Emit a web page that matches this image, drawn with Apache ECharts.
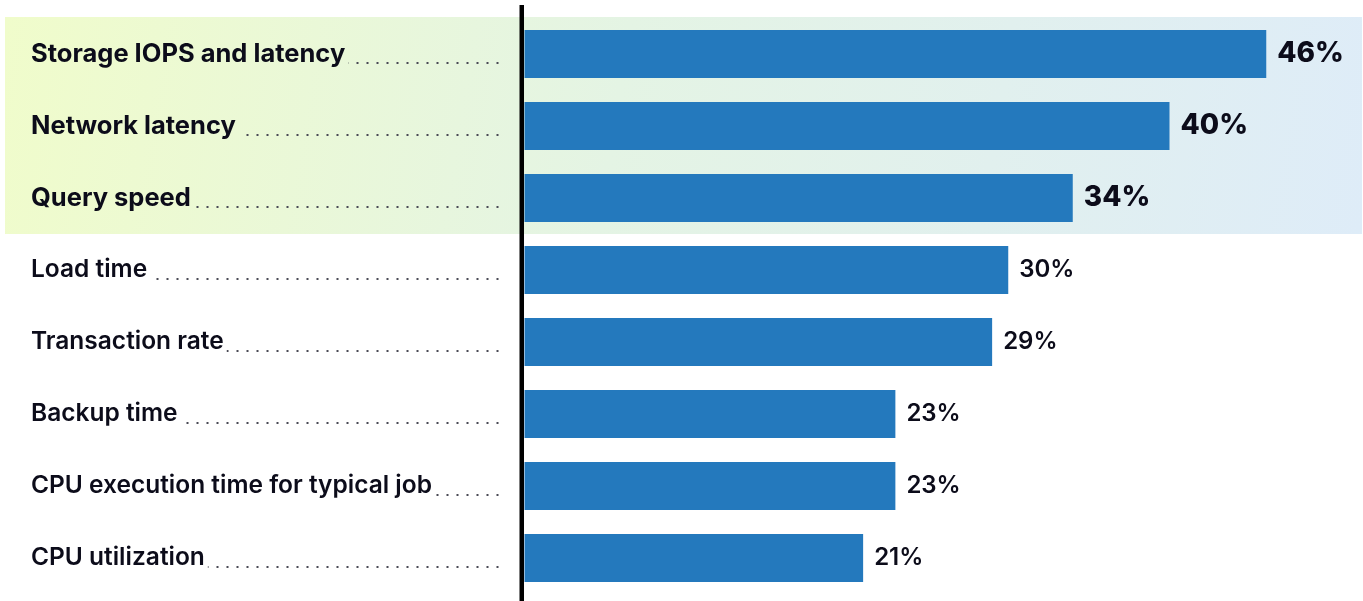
<!DOCTYPE html>
<html>
<head>
<meta charset="utf-8">
<title>Performance metrics</title>
<style>
  html, body { margin: 0; padding: 0; background: #ffffff; }
  #chart { width: 1363px; height: 601px; }
</style>
<script src="https://cdn.jsdelivr.net/npm/echarts@6/dist/echarts.min.js"></script>
</head>
<body>
<div id="chart"></div>
<script>
// Metrics and the share of respondents naming each one
const categories = [
  'Storage IOPS and latency',
  'Network latency',
  'Query speed',
  'Load time',
  'Transaction rate',
  'Backup time',
  'CPU execution time for typical job',
  'CPU utilization'
];
const shares = [46, 40, 34, 30, 29, 23, 23, 21];
// The leading rows get a bolder treatment and a shaded band behind them
const highlightedCount = 3;

const FONT = 'Inter';
const INK = '#0c0c1a';
const BAR = '#2479bd';
const LABEL_LEFT = 31;
const GRID_LEFT = 524.5;

const NAME_BOLD = { weight: 700, size: 25.5 };
const NAME_REG = { weight: 600, size: 24.5 };
const labelFont = i => {
  const f = i < highlightedCount ? NAME_BOLD : NAME_REG;
  return f.weight + ' ' + f.size + 'px ' + FONT;
};

const measureCtx = document.createElement('canvas').getContext('2d');
function textWidth(text, font) {
  measureCtx.font = font;
  return measureCtx.measureText(text).width;
}

function draw() {
  const chart = echarts.init(document.getElementById('chart'), null, { renderer: 'canvas' });

  const barData = shares.map((v, i) => ({
    value: v,
    label: i < highlightedCount
      ? { fontSize: 28, fontWeight: 800 }
      : { fontSize: 24, fontWeight: 600 }
  }));

  chart.setOption({
    animation: false,
    backgroundColor: '#ffffff',
    grid: { left: GRID_LEFT, right: 0, top: 18, bottom: 7, containLabel: false },
    graphic: {
      elements: [
        {
          type: 'rect',
          z: -10,
          silent: true,
          shape: { x: 5, y: 17, width: 1357, height: 217 },
          style: {
            fill: new echarts.graphic.LinearGradient(0, 0, 1, 1, [
              { offset: 0, color: '#f0fccb' },
              { offset: 0.45, color: '#e4f4e4' },
              { offset: 1, color: '#deecf8' }
            ])
          }
        },
        {
          type: 'rect',
          z: 100,
          silent: true,
          shape: { x: 519.5, y: 5, width: 4.5, height: 596 },
          style: { fill: '#000000' }
        }
      ]
    },
    xAxis: {
      type: 'value',
      min: 0,
      max: 52,
      show: false
    },
    yAxis: {
      type: 'category',
      inverse: true,
      data: categories,
      axisLine: { show: false },
      axisTick: { show: false },
      splitLine: { show: false },
      axisLabel: {
        align: 'left',
        margin: GRID_LEFT - LABEL_LEFT,
        color: INK,
        fontFamily: FONT,
        formatter: (value, index) => (index < highlightedCount ? '{b|' : '{n|') + value + '}',
        rich: {
          b: { fontFamily: FONT, fontSize: NAME_BOLD.size, fontWeight: NAME_BOLD.weight, color: INK },
          n: { fontFamily: FONT, fontSize: NAME_REG.size, fontWeight: NAME_REG.weight, color: INK }
        }
      }
    },
    series: [
      {
        type: 'bar',
        data: barData,
        barWidth: 48,
        itemStyle: { color: BAR },
        label: {
          show: true,
          position: 'right',
          distance: 11,
          color: INK,
          fontFamily: FONT,
          formatter: '{c}%'
        },
        z: 3
      },
      {
        // dotted leaders running from each label to the axis
        type: 'custom',
        clip: false,
        silent: true,
        data: categories.map((c, i) => [0, i]),
        renderItem: (params, api) => {
          const i = params.dataIndex;
          const p = api.coord([0, i]);
          const y = p[1] + 9;
          const start = LABEL_LEFT + textWidth(categories[i], labelFont(i)) + 3;
          return {
            type: 'line',
            shape: { x1: p[0] - 26, y1: y, x2: start, y2: y },
            style: { stroke: '#4a4a55', lineWidth: 2, lineDash: [2, 8] }
          };
        },
        z: 1
      }
    ]
  });
}

const fontsReady = document.fonts
  ? Promise.all([
      document.fonts.load('700 25.5px Inter'),
      document.fonts.load('600 24.5px Inter'),
      document.fonts.load('800 28px Inter')
    ])
  : Promise.resolve();
fontsReady.then(draw, draw);
</script>
</body>
</html>
